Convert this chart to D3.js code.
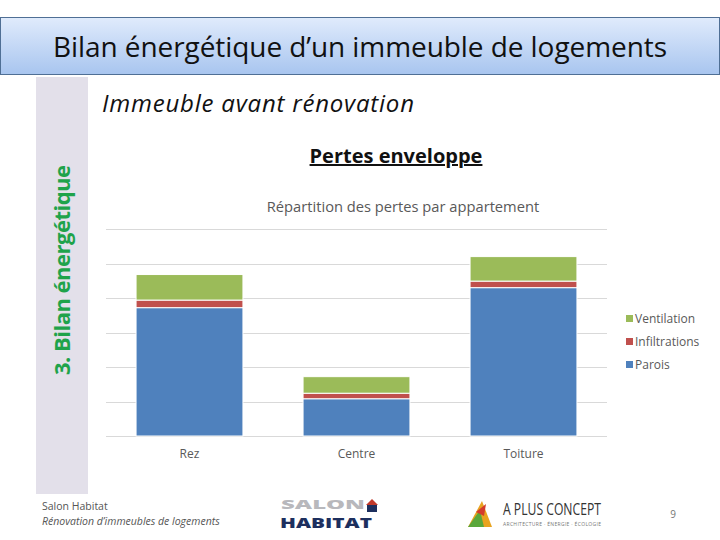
<!DOCTYPE html>
<html>
<head>
<meta charset="utf-8">
<script src="https://cdn.jsdelivr.net/npm/d3@7"></script>
<style>
  body { margin: 0; background: #fff; }
  text { font-family: "Open Sans", "Noto Sans", sans-serif; }
</style>
</head>
<body>
<svg id="chart" width="720" height="540"></svg>
<script>
// chart data
var categories = ["Rez", "Centre", "Toiture"];
var seriesNames = ["Parois", "Infiltrations", "Ventilation"];
var parois = [3.72, 1.08, 4.30];
var infiltrations = [0.22, 0.16, 0.19];
var ventilation = [0.74, 0.48, 0.71];
var gridTicks = [0, 1, 2, 3, 4, 5, 6];

var colors = {Parois: "#4f81bd", Infiltrations: "#c0504d", Ventilation: "#9bbb59"};

var svg = d3.select("#chart");

// header banner
var defs = svg.append("defs");
var grad = defs.append("linearGradient")
    .attr("id", "hdr")
    .attr("x1", 0).attr("y1", 0).attr("x2", 0).attr("y2", 1);
grad.append("stop").attr("offset", "0%").attr("stop-color", "#e0ebfc");
grad.append("stop").attr("offset", "100%").attr("stop-color", "#a8c5ef");

svg.append("rect")
    .attr("x", 0.5).attr("y", 17.5)
    .attr("width", 719).attr("height", 57)
    .attr("fill", "url(#hdr)")
    .attr("stroke", "#4f6f95");

svg.append("text")
    .attr("x", 360).attr("y", 57)
    .attr("text-anchor", "middle")
    .style("font-size", "28px")
    .attr("textLength", 614)
    .attr("fill", "#111")
    .text("Bilan énergétique d’un immeuble de logements");

// side band
svg.append("rect")
    .attr("x", 36).attr("y", 77)
    .attr("width", 52).attr("height", 417)
    .attr("fill", "#e3e0ea");

svg.append("text")
    .attr("transform", "translate(70,270) rotate(-90)")
    .attr("text-anchor", "middle")
    .style("font-size", "22px")
    .style("font-weight", "bold")
    .attr("textLength", 210)
    .attr("fill", "#1fa34a")
    .text("3. Bilan énergétique");

svg.append("text")
    .attr("x", 102).attr("y", 112)
    .style("font-size", "24px")
    .style("font-style", "italic")
    .attr("textLength", 312)
    .attr("fill", "#111")
    .text("Immeuble avant rénovation");

svg.append("text")
    .attr("x", 396).attr("y", 163)
    .attr("text-anchor", "middle")
    .style("font-size", "20px")
    .style("font-weight", "bold")
    .style("text-decoration", "underline")
    .attr("fill", "#111")
    .text("Pertes enveloppe");

svg.append("text")
    .attr("x", 403).attr("y", 212)
    .attr("text-anchor", "middle")
    .style("font-size", "14.7px")
    .attr("fill", "#595959")
    .text("Répartition des pertes par appartement");

// plot
var plot = {left: 106, right: 607, top: 229, bottom: 436};

var x = d3.scaleBand()
    .domain(categories)
    .range([plot.left, plot.right])
    .padding(0);

var y = d3.scaleLinear()
    .domain([0, 6])
    .range([plot.bottom, plot.top]);

svg.append("g")
  .selectAll("line")
  .data(gridTicks)
  .join("line")
    .attr("x1", plot.left).attr("x2", plot.right)
    .attr("y1", d => Math.round(y(d)) + 0.5)
    .attr("y2", d => Math.round(y(d)) + 0.5)
    .attr("stroke", "#d9d9d9")
    .attr("stroke-width", 1);

var rows = categories.map(function(c, i) {
  return {cat: c, Parois: parois[i], Infiltrations: infiltrations[i], Ventilation: ventilation[i]};
});
var stacked = d3.stack().keys(seriesNames)(rows);

var barW = x.bandwidth() * 0.64;

svg.append("g")
  .selectAll("g")
  .data(stacked)
  .join("g")
    .attr("fill", d => colors[d.key])
  .selectAll("rect")
  .data(d => d)
  .join("rect")
    .attr("x", d => x(d.data.cat) + (x.bandwidth() - barW) / 2)
    .attr("y", d => y(d[1]))
    .attr("width", barW)
    .attr("height", d => y(d[0]) - y(d[1]))
    .attr("stroke", "#fff")
    .attr("stroke-width", 1);

svg.append("g")
  .selectAll("text")
  .data(categories)
  .join("text")
    .attr("x", d => x(d) + x.bandwidth() / 2)
    .attr("y", 458)
    .attr("text-anchor", "middle")
    .style("font-size", "12px")
    .attr("fill", "#595959")
    .text(d => d);

// legend, top entry is Ventilation
var legend = svg.append("g")
  .selectAll("g")
  .data(seriesNames.slice().reverse())
  .join("g")
    .attr("transform", (d, i) => "translate(626," + (319 + i * 23) + ")");

legend.append("rect")
    .attr("x", 0).attr("y", -4)
    .attr("width", 7).attr("height", 7)
    .attr("fill", d => colors[d]);

legend.append("text")
    .attr("x", 9).attr("y", 4)
    .style("font-size", "12px")
    .attr("fill", "#595959")
    .text(d => d);

// footer
svg.append("text")
    .attr("x", 42).attr("y", 510)
    .style("font-size", "10.5px")
    .attr("fill", "#555")
    .text("Salon Habitat");

svg.append("text")
    .attr("x", 42).attr("y", 525)
    .style("font-size", "10.5px")
    .style("font-style", "italic")
    .attr("fill", "#555")
    .text("Rénovation d’immeubles de logements");

// Salon Habitat logo
svg.append("text")
    .attr("x", 281).attr("y", 509)
    .style("font-size", "12px")
    .style("font-weight", "900")
    .attr("textLength", 84)
    .attr("lengthAdjust", "spacingAndGlyphs")
    .attr("fill", "#b8b8bc")
    .text("SALON");

svg.append("text")
    .attr("x", 280).attr("y", 528)
    .style("font-size", "14px")
    .style("font-weight", "900")
    .attr("textLength", 92)
    .attr("lengthAdjust", "spacingAndGlyphs")
    .attr("fill", "#1d2f5e")
    .text("HABITAT");

svg.append("path")
    .attr("d", "M366,505 L372,499 L378,505 Z")
    .attr("fill", "#c0392b");
svg.append("rect")
    .attr("x", 367).attr("y", 505)
    .attr("width", 10).attr("height", 7)
    .attr("fill", "#1d2f5e");

// A Plus Concept logo
svg.append("path")
    .attr("d", "M468,527 L482,501 L492,527 Z")
    .attr("fill", "#e8a31f");
svg.append("path")
    .attr("d", "M468,527 L480,510 L484,527 Z")
    .attr("fill", "#5aa73b");
svg.append("path")
    .attr("d", "M476,512 L486,504 L484,516 Z")
    .attr("fill", "#d33b2c");

svg.append("text")
    .attr("x", 503).attr("y", 515)
    .style("font-size", "16px")
    .attr("textLength", 98)
    .attr("lengthAdjust", "spacingAndGlyphs")
    .attr("fill", "#333")
    .text("A PLUS CONCEPT");

svg.append("text")
    .attr("x", 503).attr("y", 526)
    .style("font-size", "5px")
    .attr("textLength", 98)
    .attr("fill", "#777")
    .text("ARCHITECTURE · ÉNERGIE · ÉCOLOGIE");

svg.append("text")
    .attr("x", 673).attr("y", 518)
    .attr("text-anchor", "middle")
    .style("font-size", "10px")
    .attr("fill", "#777")
    .text("9");
</script>
</body>
</html>
